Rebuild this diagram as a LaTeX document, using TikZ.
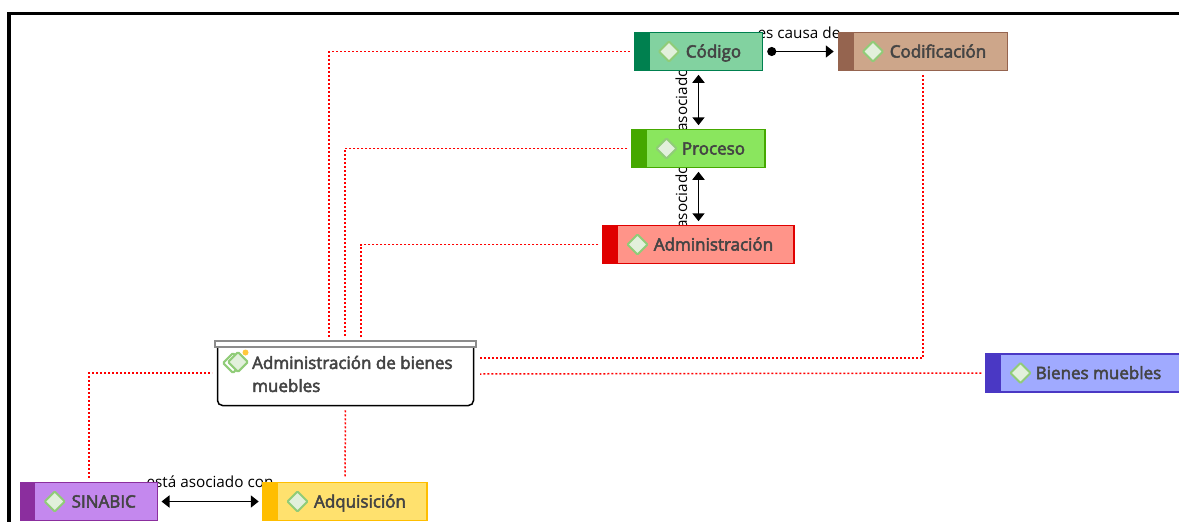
\documentclass[tikz,border=0pt]{standalone}
\usepackage{fontspec}
\setmainfont{Open Sans}
\newfontfamily\temafont[FakeBold=3]{Open Sans}
\usetikzlibrary{arrows.meta}
\definecolor{tematexto}{HTML}{444444}
\definecolor{rombofondo}{HTML}{E2F0DC}
\definecolor{rombolinea}{HTML}{90CC78}
\definecolor{barra}{HTML}{8C8C8C}
\definecolor{icono}{HTML}{FFC83C}
\definecolor{cod1}{HTML}{82D2A0}
\definecolor{cod2}{HTML}{00804F}
\definecolor{cdf1}{HTML}{CDA68A}
\definecolor{cdf2}{HTML}{95644F}
\definecolor{pro1}{HTML}{8AE65E}
\definecolor{pro2}{HTML}{45A800}
\definecolor{adm1}{HTML}{FF9489}
\definecolor{adm2}{HTML}{E00000}
\definecolor{bie1}{HTML}{A0AAFF}
\definecolor{bie2}{HTML}{4A38C4}
\definecolor{sin1}{HTML}{C488EE}
\definecolor{sin2}{HTML}{8B2E9E}
\definecolor{adq1}{HTML}{FFE16E}
\definecolor{adq2}{HTML}{FFBE00}
\tikzset{
    rombo/.style={draw=rombolinea, fill=rombofondo, line width=2pt, rounded corners=1pt},
    icono/.style={rombo, rotate=45, minimum size=14pt, inner sep=0pt},
    tema/.style 2 args={draw=#2, fill=#1, line width=1.5pt, minimum height=38pt, inner sep=0pt, text=tematexto,
        text height=16pt, text depth=4pt,
        font=\temafont\fontsize{17}{20}\selectfont, execute at begin node={\hspace*{30pt}},
        path picture={
            \fill[#2] (path picture bounding box.north west) rectangle ([xshift=15pt]path picture bounding box.south west);
            \draw[rombo] ([xshift=24.5pt]path picture bounding box.west) -- ++(10,-10) -- ++(10,10) -- ++(-10,10) -- cycle;
        }},
    etiqueta/.style={font=\fontsize{15.3}{18}\selectfont, text=black, inner sep=0pt},
    enlace/.style={draw=red, line width=1.5pt, dash pattern=on 2pt off 2pt, shorten <=4pt},
    flecha/.style={line width=1.8pt, {Triangle[length=8pt,width=12pt]}-{Triangle[length=8pt,width=12pt]}, shorten <=3.5pt, shorten >=3.5pt},
    causa/.style={line width=1.8pt, {Circle[length=9pt]}-{Triangle[length=8pt,width=12pt]}, shorten <=4pt, shorten >=4pt}
}
\begin{document}
\begin{tikzpicture}[x=1pt,y=-1pt] %Mapa de bienes muebles
            \useasboundingbox (0,0) rectangle (1179,522);
            \draw[line width=3.8pt] (9,522) -- (9,13.5) -- (1179,13.5);

            \node[etiqueta] (causaT) at (799,33) {es causa de};
            \node[etiqueta, rotate=90] (asocA) at (681.5,100) {asociado};
            \node[etiqueta, rotate=90] (asocB) at (681.5,197) {asociado};
            \node[etiqueta] (asocC) at (210,482) {está asociado con};

            \node[tema={cod1}{cod2}, minimum width=128pt] (cod) at (698.5,51.5) {Código};
            \node[tema={cdf1}{cdf2}, minimum width=169pt] (codif) at (923,51.5) {Codificación};
            \node[tema={pro1}{pro2}, minimum width=133pt] (pro) at (698.5,148.5) {Proceso};
            \node[tema={adm1}{adm2}, minimum width=191pt] (adm) at (698.5,244.5) {Administración};
            \node[tema={bie1}{bie2}, minimum width=195pt] (bie) at (1083.5,373) {Bienes muebles};
            \node[tema={sin1}{sin2}, minimum width=137pt] (sin) at (88.75,501.5) {SINABIC};
            \node[tema={adq1}{adq2}, minimum width=164pt] (adq) at (345,501.5) {Adquisición};

            \node[draw=black, fill=white, line width=1.5pt, rounded corners=5pt, minimum width=256pt, minimum height=64pt] (cen) at (345.5,373.5) {};
            \node[draw=barra, fill=white, line width=1.5pt, minimum width=261pt, minimum height=6pt, inner sep=0pt] (cenB) at (345.5,344) {};
            \node[icono, fill=white] (icoA) at (233,363) {};
            \node[icono] (icoB) at (238,362) {};
            \node[circle, fill=icono, minimum size=6pt, inner sep=0pt] (icoC) at (245.5,352.5) {};
            \node[anchor=west, align=left, inner sep=0pt, text=tematexto, font=\temafont\fontsize{17}{23}\selectfont] (cenT) at (252,374) {Administración de bienes\\muebles};

            \coordinate (codE) at (329,338);
            \coordinate (proE) at (345,338);
            \coordinate (admE) at (361,338);
            \coordinate (cdfE) at (480,358);
            \coordinate (bieE) at (480,374);
            \coordinate (sinE) at (212,373);

            \draw[enlace] (cod.west) -| (codE);
            \draw[enlace] (pro.west) -| (proE);
            \draw[enlace] (adm.west) -| (admE);
            \draw[enlace] (codif.south) |- (cdfE);
            \draw[enlace] (bie.west) -- (bieE);
            \draw[enlace] (sin.north) |- (sinE);
            \draw[enlace, shorten >=4pt] (cen.south) -- (adq.north);

            \draw[causa] (cod) -- (codif);
            \draw[flecha] (cod) -- (pro);
            \draw[flecha] (pro) -- (adm);
            \draw[flecha] (sin) -- (adq);
        \end{tikzpicture}
\end{document}
